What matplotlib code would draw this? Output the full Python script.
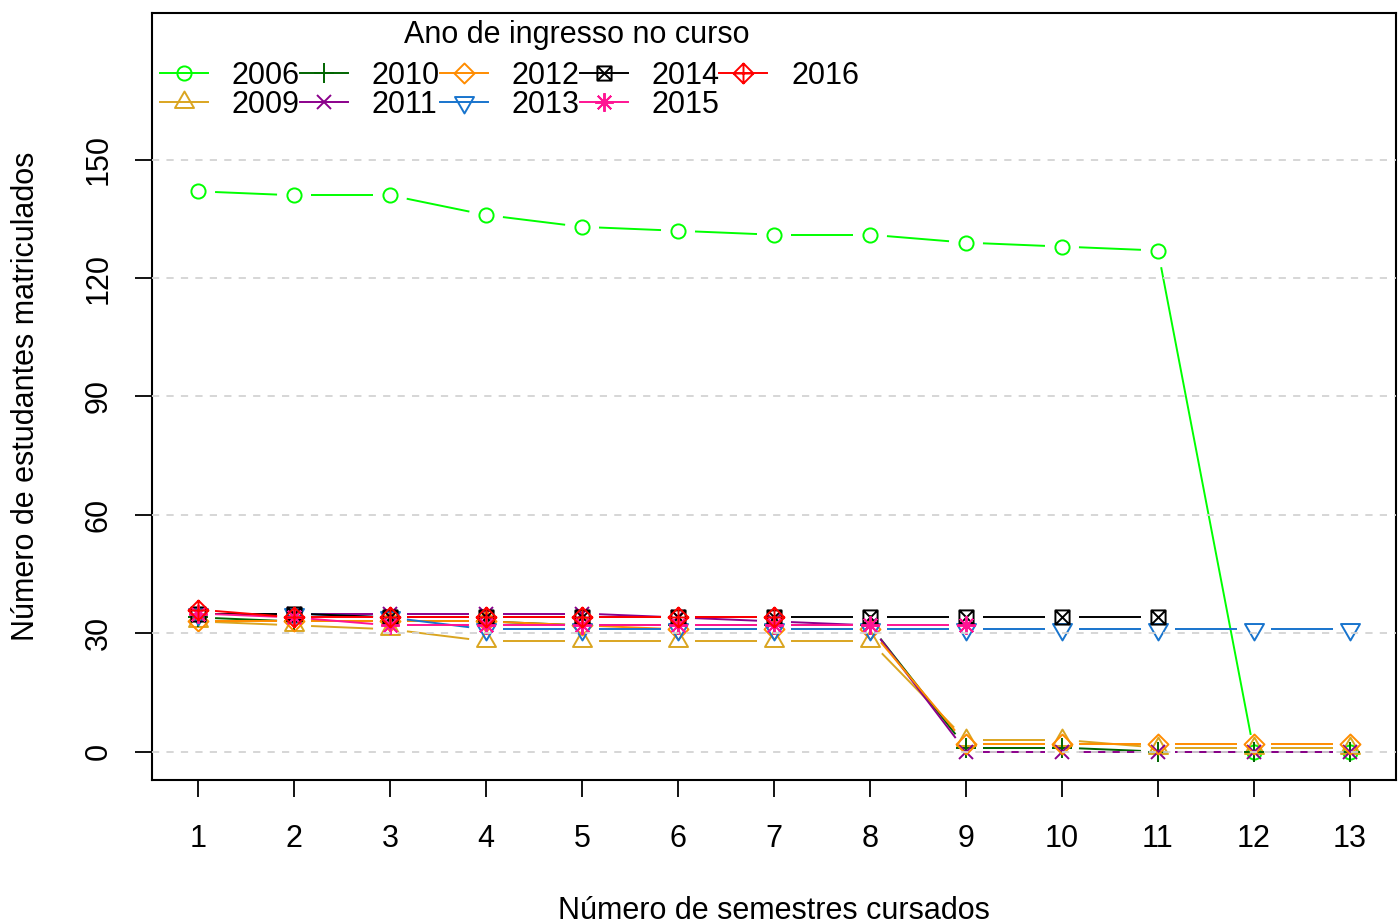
import numpy as np
import matplotlib
matplotlib.use('Agg')
import matplotlib.pyplot as plt
from matplotlib.path import Path
from matplotlib.lines import Line2D

plt.rcParams['font.family'] = ['Liberation Sans', 'DejaVu Sans']

# ---------------- data ----------------
semestres = list(range(1, 14))
anos = ['2006', '2009', '2010', '2011', '2012', '2013', '2014', '2015', '2016']
v2006 = [142, 141, 141, 136, 133, 132, 131, 131, 129, 128, 127, 0, 0]
v2009 = [33, 32, 31, 28, 28, 28, 28, 28, 3, 3, 1, 1, 1]
v2010 = [34, 33, 33, 33, 32, 32, 32, 32, 1, 1, 0, 0, 0]
v2011 = [35, 35, 35, 35, 35, 34, 33, 32, 0, 0, 0, 0, 0]
v2012 = [33, 33, 33, 33, 32, 31, 31, 31, 2, 2, 2, 2, 2]
v2013 = [35, 35, 34, 31, 31, 31, 31, 31, 31, 31, 31, 31, 31]
v2014 = [35, 35, 34, 34, 34, 34, 34, 34, 34, 34, 34]
v2015 = [35, 34, 32, 32, 32, 32, 32, 32, 32]
v2016 = [36, 34, 34, 34, 34, 34, 34]
valores = [v2006, v2009, v2010, v2011, v2012, v2013, v2014, v2015, v2016]
cores = ['#00FF00', '#DAA520', '#006400', '#8B008B', '#FF8C00',
         '#1874CD', '#000000', '#FF1493', '#FF0000']
yticks = [0, 30, 60, 90, 120, 150]

# ---------------- markers (R pch 1..9) ----------------
def closed(verts):
    v = list(verts) + [verts[0]]
    return Path(v, [Path.MOVETO] + [Path.LINETO] * (len(v) - 2) + [Path.CLOSEPOLY])

tri_up = closed([(0, 1.555), (1.347, -0.777), (-1.347, -0.777)])
tri_dn = closed([(0, -1.555), (1.347, 0.777), (-1.347, 0.777)])
diamond = closed([(0, 1), (1, 0), (0, -1), (-1, 0)])
sq_x = Path([(-1, -1), (1, -1), (1, 1), (-1, 1), (-1, -1),
             (-1, -1), (1, 1), (-1, 1), (1, -1)],
            [Path.MOVETO, Path.LINETO, Path.LINETO, Path.LINETO, Path.CLOSEPOLY,
             Path.MOVETO, Path.LINETO, Path.MOVETO, Path.LINETO])
dia_plus = Path([(0, 1), (1, 0), (0, -1), (-1, 0), (0, 1),
                 (-1, 0), (1, 0), (0, -1), (0, 1)],
                [Path.MOVETO, Path.LINETO, Path.LINETO, Path.LINETO, Path.CLOSEPOLY,
                 Path.MOVETO, Path.LINETO, Path.MOVETO, Path.LINETO])
marcadores = ['o', tri_up, '+', 'x', diamond, tri_dn, sq_x, (8, 2, 0), dia_plus]
tamanhos = [10.2, 15.8, 14.4, 10.2, 14.4, 15.8, 10.2, 13.5, 14.4]

LW = 1.4
W, H = 1398, 924
fig = plt.figure(figsize=(W / 100, H / 100), dpi=100)
ax = fig.add_axes([152 / W, 1 - 780 / H, (1396 - 152) / W, (780 - 13) / H])
ax.set_xlim(0.52, 13.48)
ax.set_ylim(-7.2, 187.2)

def draw_gapped(xs, ys, color, gap_px):
    T = ax.transData
    inv = T.inverted()
    pts = T.transform(np.column_stack([xs, ys]))
    for p0, p1 in zip(pts[:-1], pts[1:]):
        d = p1 - p0
        L = np.hypot(d[0], d[1])
        if L <= 2 * gap_px:
            continue
        u = d / L
        a = inv.transform(p0 + u * gap_px)
        b = inv.transform(p1 - u * gap_px)
        ax.plot([a[0], b[0]], [a[1], b[1]], color=color, lw=LW,
                solid_capstyle='butt', zorder=2)

handles = []
for vals, c, m, s in zip(valores, cores, marcadores, tamanhos):
    xs = semestres[:len(vals)]
    draw_gapped(xs, vals, c, 17)
    ax.plot(xs, vals, ls='none', marker=m, ms=s, mfc='none', mec=c, mew=LW, zorder=2)
    handles.append(Line2D([], [], color=c, lw=LW, marker=m, ms=s, mfc='none',
                          mec=c, mew=LW))

for yv in yticks:
    ax.axhline(yv, color='#D3D3D3', lw=1.3, ls=(0, (4, 4)), zorder=3)

ax.set_xticks(semestres)
ax.set_yticks(yticks)
ax.tick_params(direction='out', length=12, width=1.3, labelsize=22)
ax.tick_params(axis='x', pad=19.5)
ax.tick_params(axis='y', pad=15.5, labelrotation=90)
for lab in ax.get_yticklabels():
    lab.set_va('center')
for sp in ax.spines.values():
    sp.set_linewidth(1.5)

fig.legend(handles, anos, ncol=5, loc='upper left',
           bbox_to_anchor=(160 / W, 1 - 61 / H), frameon=False, fontsize=22,
           handlelength=1.57, handletextpad=0.78, columnspacing=0.0,
           labelspacing=-0.04, borderpad=0, borderaxespad=0)
fig.text(577 / W, 1 - 35 / H, 'Ano de ingresso no curso', fontsize=22,
         ha='center', va='center')

fig.text(774 / W, 1 - 911 / H, 'Número de semestres cursados', fontsize=22,
         ha='center', va='center')
fig.text(26 / W, 1 - 396 / H, 'Número de estudantes matriculados', fontsize=22,
         ha='center', va='center', rotation=90)

fig.savefig('out.png', dpi=100)
